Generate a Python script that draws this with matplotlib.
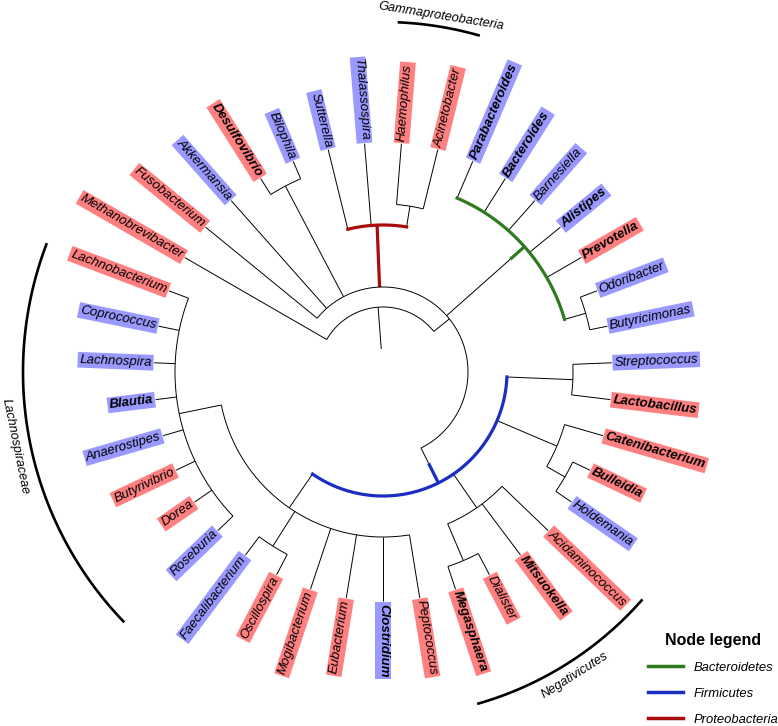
import numpy as np
import matplotlib.pyplot as plt
from matplotlib.lines import Line2D

plt.rcParams['font.family'] = ['Liberation Sans', 'DejaVu Sans']

# tips, clockwise
tips = ["Methanobrevibacter", "Fusobacterium", "Akkermansia", "Desulfovibrio", "Bilophila",
        "Sutterella", "Thalassospira", "Haemophilus", "Acinetobacter",
        "Parabacteroides", "Bacteroides", "Barnesiella", "Alistipes", "Prevotella",
        "Odoribacter", "Butyricimonas", "Streptococcus", "Lactobacillus",
        "Catenibacterium", "Bulleidia", "Holdemania", "Acidaminococcus", "Mitsuokella",
        "Dialister", "Megasphaera", "Peptococcus", "Clostridium", "Eubacterium",
        "Mogibacterium", "Oscillospira", "Faecalibacterium", "Roseburia", "Dorea",
        "Butyrivibrio", "Anaerostipes", "Blautia", "Lachnospira", "Coprococcus",
        "Lachnobacterium"]
tip_parent = ["root", "n1", "n1", "DB", "DB",
              "Proteobacteria", "Proteobacteria", "HA", "HA",
              "Bacteroidetes", "Bacteroidetes", "Bacteroidetes", "Bacteroidetes", "Bacteroidetes",
              "OB", "OB", "SL", "SL",
              "CBH", "BH", "BH", "Negativicutes", "Negativicutes",
              "DM", "DM", "Clostridia", "Clostridia", "Clostridia",
              "Clostridia", "FO", "FO", "Lachnospiraceae", "Lachnospiraceae",
              "Lachnospiraceae", "Lachnospiraceae", "Lachnospiraceae", "Lachnospiraceae", "Lachnospiraceae",
              "Lachnospiraceae"]
box_class = ["r", "r", "b", "r", "b",
             "b", "b", "r", "r",
             "b", "b", "b", "b", "r",
             "b", "b", "b", "r",
             "r", "r", "b", "r", "r",
             "r", "r", "r", "b", "r",
             "r", "r", "b", "b", "r",
             "r", "b", "b", "b", "b",
             "r"]
bold_tips = ["Desulfovibrio", "Parabacteroides", "Bacteroides", "Alistipes", "Prevotella",
             "Lactobacillus", "Catenibacterium", "Bulleidia", "Mitsuokella", "Megasphaera",
             "Clostridium", "Blautia"]

# internal nodes
nodes = ["root", "n1", "DB", "Proteobacteria", "HA", "Bacteroidetes", "OB", "Firmicutes",
         "SL", "CBH", "BH", "Negativicutes", "DM", "Clostridia", "FO", "Lachnospiraceae"]
node_parent = [None, "root", "n1", "n1", "Proteobacteria", "n1", "Bacteroidetes", "n1",
               "Firmicutes", "Firmicutes", "CBH", "Firmicutes", "Negativicutes", "Firmicutes",
               "Clostridia", "Clostridia"]
node_radius = [65, 85, 210, 147, 168, 189, 211, 124, 190, 189, 210, 165, 205, 165, 206, 208]
tip_radius = 229
root_base = 23

clades = ["Bacteroidetes", "Firmicutes", "Proteobacteria"]
clade_colors = ["#2d7a1f", "#1a2ec4", "#a80c0c"]
clade_from = [170, 102, 85]

brackets = ["Gammaproteobacteria", "Negativicutes", "Lachnospiraceae"]
bracket_first = ["Haemophilus", "Acidaminococcus", "Roseburia"]
bracket_last = ["Acinetobacter", "Megasphaera", "Lachnobacterium"]
bracket_radius = [350, 345, 360]
bracket_pad = [2.0, 2.4, 0.0]
bracket_gap = [10, 14, 15]

box_colors = {"r": "#ff8080", "b": "#9999ff"}

# layout
angle = {t: 150 - i * 360 / len(tips) for i, t in enumerate(tips)}
radius = {t: tip_radius for t in tips}
radius.update(zip(nodes, node_radius))
parent = dict(zip(tips, tip_parent))
parent.update(zip(nodes, node_parent))
children = {n: [] for n in nodes}
for name, p in parent.items():
    if p is not None:
        children[p].append(name)


def node_angle(n):
    if n not in angle:
        a = [node_angle(c) for c in children[n]]
        angle[n] = (max(a) + min(a)) / 2
    return angle[n]


for n in nodes:
    node_angle(n)

fig = plt.figure(figsize=(7.78, 7.26), dpi=100)
R = 400
cx, cy = 383, 726 - 372
ax = fig.add_axes([(cx - R) / 778, (cy - R) / 726, 2 * R / 778, 2 * R / 726], projection='polar')
ax.set_ylim(0, R)
ax.axis('off')

thin = dict(color='black', lw=0.7, clip_on=False, solid_capstyle='butt')
clade_style = {c: (col, f) for c, col, f in zip(clades, clade_colors, clade_from)}


def arc(a1, a2, r, **kw):
    t = np.radians(np.linspace(a1, a2, 80))
    ax.plot(t, np.full_like(t, r), **kw)


# branches
for name, p in parent.items():
    t = np.radians(angle[name])
    if p is None:
        ax.plot([t, t], [root_base, radius[name]], **thin)
        continue
    r0, r1 = radius[p], radius[name]
    if name in clade_style:
        col, f = clade_style[name]
        if f > r0:
            ax.plot([t, t], [r0, f], **thin)
        ax.plot([t, t], [f, r1], color=col, lw=2.3, clip_on=False, solid_capstyle='butt')
    else:
        ax.plot([t, t], [r0, r1], **thin)

# arcs of internal nodes
for n in nodes:
    a = [angle[c] for c in children[n]]
    if n in clade_style:
        arc(min(a), max(a), radius[n], color=clade_style[n][0], lw=2.3, clip_on=False)
    else:
        arc(min(a), max(a), radius[n], **thin)

# tip labels
for t, cls in zip(tips, box_class):
    a = (angle[t] + 180) % 360 - 180
    if -90 <= a < 90:
        rot, ha = a, 'left'
    else:
        rot, ha = a - 180, 'right'
    ax.text(np.radians(angle[t]), tip_radius + 2.5, t, rotation=rot, rotation_mode='anchor',
            ha=ha, va='center', fontsize=9.5, style='italic',
            weight='bold' if t in bold_tips else 'normal',
            bbox=dict(boxstyle='square,pad=0.14', fc=box_colors[cls], ec='none'))

# group brackets
for lab, f, l, r, pad, gap in zip(brackets, bracket_first, bracket_last, bracket_radius,
                                  bracket_pad, bracket_gap):
    a1, a2 = angle[f] + pad, angle[l] - pad
    arc(a1, a2, r, color='black', lw=1.9, clip_on=False)
    m = (a1 + a2) / 2
    rot = m - 90 if np.sin(np.radians(m)) > 0 else m + 90
    ax.text(np.radians(m), r + gap, lab, rotation=rot, rotation_mode='anchor',
            ha='center', va='center', fontsize=9.2, style='italic')

handles = [Line2D([], [], color=c, lw=2.5) for c in clade_colors]
fig.legend(handles, clades, loc='upper left', bbox_to_anchor=(648 / 778, 1 - 633 / 726),
           frameon=False, title='Node legend',
           title_fontproperties={'weight': 'bold', 'size': 11.5},
           prop={'style': 'italic', 'size': 9.4}, handlelength=2.7, handletextpad=0.8,
           labelspacing=1.05, borderpad=0, borderaxespad=0)

fig.savefig('out.png', dpi=100)
